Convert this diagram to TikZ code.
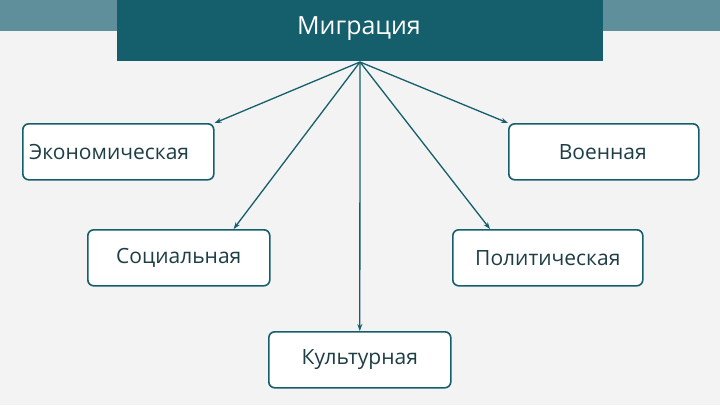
\documentclass[tikz,border=0pt]{standalone}
\usepackage{fontspec}
\setmainfont{Open Sans}
\usetikzlibrary{calc,arrows.meta}
\definecolor{bg}{HTML}{F3F3F3}
\definecolor{band}{HTML}{5F8F9A}
\definecolor{dark}{HTML}{155E6B}
\definecolor{txt}{HTML}{1E3E46}
\begin{document}
\begin{tikzpicture}[x=1pt,y=-1pt,
  box/.style={draw=dark,line width=1.6pt,rounded corners=6pt,fill=white,minimum width=#1,minimum height=56pt,inner sep=6pt,text=txt,font=\fontsize{21}{24}\selectfont},
  box/.default=186pt,
  lbl/.style={text=txt,font=\fontsize{21}{24}\selectfont,inner sep=0pt},
  arr/.style={-{Stealth[length=7pt,width=5pt]},draw=dark,line width=1.3pt}]
\useasboundingbox (0,0) rectangle (720,405);
\fill[bg] (0,0) rectangle (720,405);
\fill[band] (0,0) rectangle (720,31);
\node[fill=dark,minimum width=486pt,minimum height=61pt,anchor=north west,inner sep=0pt] (title) at (117,0) {};
\node[text=white,font=\fontsize{25}{28}\selectfont] (tt) at (359,29) {Миграция};
\coordinate (src) at (360,62);
\node[box=191pt,anchor=north west] (eco) at (22,123) {};
\node[lbl,anchor=west] (ecot) at (29,152) {Экономическая};
\node[box=190pt,anchor=north west] (voe) at (508,123) {};
\node[lbl,anchor=east] (voet) at (647,152) {Военная};
\node[box=182pt,anchor=north west] (soc) at (87,229) {Социальная};
\node[box=190pt,anchor=north west] (pol) at (452,229) {Политическая};
\node[box=182pt,anchor=north west] (kul) at (268,331) {Культурная};
\draw[arr] (src) -- (eco.north east);
\draw[arr] (src) -- ($(soc.north east)+(-37,0)$);
\draw[arr] (src) -- (kul.north);
\draw[arr] (src) -- ($(pol.north west)+(38,0)$);
\draw[arr] (src) -- (voe.north west);
\end{tikzpicture}
\end{document}
